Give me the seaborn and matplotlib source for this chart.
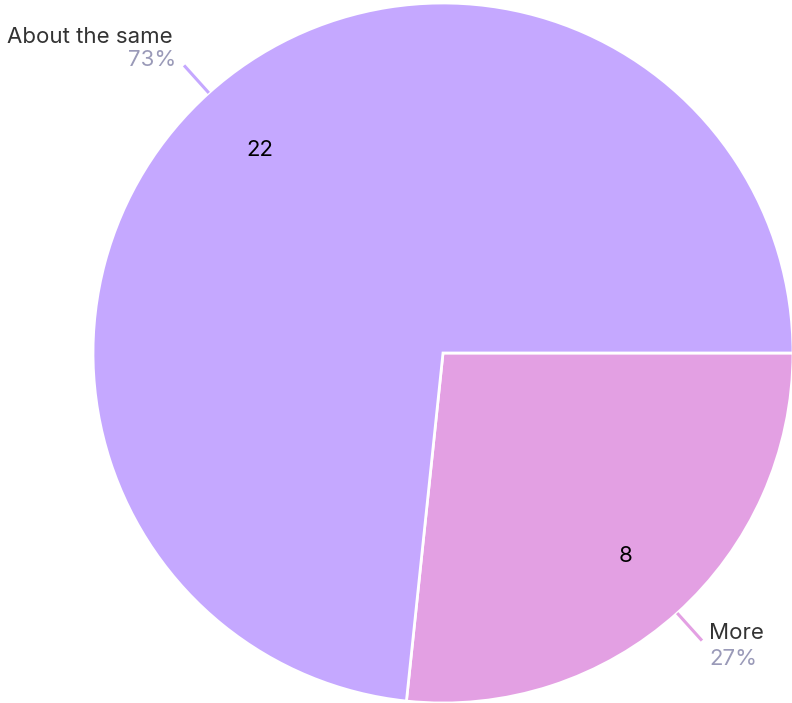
import numpy as np
import matplotlib.pyplot as plt
import seaborn as sns

# Chart data
labels = ['More', 'About the same']
counts = [8, 22]
colors = ['#E3A0E3', '#C5A8FF']

sns.set_theme(style='white')
plt.rcParams['font.family'] = ['Inter', 'DejaVu Sans']

fig = plt.figure(figsize=(7.92, 7.03), dpi=100)
ax = fig.add_axes([0, 0, 1, 1])

cx, cy, r = 443, 350, 350
wedges, texts = ax.pie(
    counts, colors=colors, startangle=0, counterclock=False,
    center=(cx, cy), radius=r, labels=[str(c) for c in counts],
    labeldistance=0.78, frame=False,
    wedgeprops=dict(edgecolor='white', linewidth=2),
    textprops=dict(fontsize=16, color='black', ha='center', va='center'))

# pie() resets the limits, so set them afterwards
ax.set_xlim(0, 792)
ax.set_ylim(0, 703)
ax.set_aspect('equal')
ax.axis('off')

total = sum(counts)
for w, lab, c, col in zip(wedges, labels, counts, colors):
    mid = np.deg2rad((w.theta1 + w.theta2) / 2)
    dx, dy = np.cos(mid), np.sin(mid)
    x0, y0 = cx + r * dx, cy + r * dy
    x1, y1 = cx + (r + 37) * dx, cy + (r + 37) * dy
    ax.plot([x0, x1], [y0, y1], color=col, lw=2.2, solid_capstyle='butt')
    pct = f'{round(100 * c / total)}%'
    if dx < 0:
        ax.text(x1 - 11, y1 + 28, lab, ha='right', va='center', fontsize=16, color='#333333')
        ax.text(x1 - 8, y1 + 5, pct, ha='right', va='center', fontsize=16, color='#9A9AB8')
    else:
        ax.text(x1 + 7, y1 + 8, lab, ha='left', va='center', fontsize=16, color='#333333')
        ax.text(x1 + 7, y1 - 18, pct, ha='left', va='center', fontsize=16, color='#9A9AB8')

fig.savefig('out.png', dpi=100)
